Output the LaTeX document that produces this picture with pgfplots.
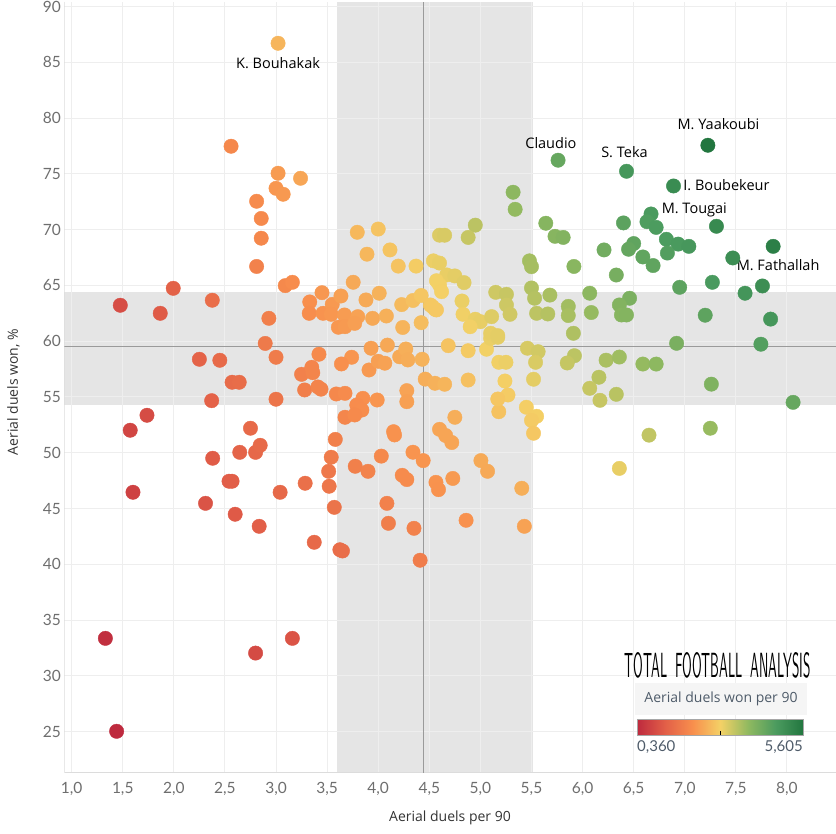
\documentclass[border=0pt]{standalone}
\usepackage{pgfplots}
\pgfplotsset{compat=1.18}
\usepackage{pgfplotstable}
\usepackage{fontspec}
\setmainfont{Open Sans}
\newfontfamily\tickfont{Lato}
\definecolor{bandc}{HTML}{E5E5E5}
\definecolor{gridc}{HTML}{EEEEEE}
\definecolor{medc}{HTML}{9A9A9A}
\definecolor{axisc}{HTML}{DCDCDC}
\definecolor{tickc}{HTML}{6E6E6E}
\definecolor{titlec}{HTML}{333333}
\definecolor{legc}{HTML}{4E5B69}
\definecolor{legbg}{HTML}{F5F5F5}
\definecolor{ra}{HTML}{BE2A3E}
\definecolor{rb}{HTML}{E25F48}
\definecolor{rc}{HTML}{F88F4D}
\definecolor{rd}{HTML}{F4D166}
\definecolor{re}{HTML}{90B960}
\definecolor{rf}{HTML}{4B9B5F}
\definecolor{rg}{HTML}{22763F}
\pgfdeclarehorizontalshading{rgg}{100bp}{color(0bp)=(ra); color(25bp)=(ra); color(33.333bp)=(rb); color(41.667bp)=(rc); color(50bp)=(rd); color(58.333bp)=(re); color(66.667bp)=(rf); color(75bp)=(rg); color(100bp)=(rg)}

\pgfplotstableread{
x y
3.02 86.7
2.56 77.47
3.02 75.05
3.24 74.6
3.00 73.7
3.07 73.17
2.81 72.54
2.855 71.0
2.855 69.23
2.81 66.7
3.09 64.98
3.16 65.28
1.476 63.22
1.994 64.74
1.867 62.5
2.376 63.67
2.93 62.05
2.894 59.8
3.0 58.56
3.42 58.83
2.25 58.38
2.45 58.29
2.57 56.32
2.64 56.32
2.37 54.67
3.0 54.8
3.25 57.03
3.35 57.66
3.36 57.18
3.28 55.63
3.41 55.9
3.44 55.7
3.33 63.52
3.325 62.5
3.45 64.35
3.46 62.5
3.55 63.3
3.54 62.41
3.635 64.05
3.67 62.35
3.80 62.2
3.61 61.25
3.675 61.3
3.77 61.6
3.755 65.28
3.88 63.7
4.01 64.3
3.945 62.05
4.08 62.26
4.23 63.28
4.24 61.23
3.795 69.76
4.0 70.05
3.89 67.8
4.115 68.18
4.196 66.73
4.37 66.73
4.34 63.65
4.42 64.1
4.42 61.66
4.51 63.25
4.555 62.86
3.74 58.56
3.64 57.96
3.93 59.37
4.09 59.65
3.91 57.42
4.0 58.2
4.065 58.03
4.21 58.6
4.27 59.3
4.29 58.32
4.43 58.38
4.46 56.6
4.555 56.23
4.65 56.14
4.28 55.57
4.28 54.58
3.59 55.27
3.675 55.33
3.85 54.88
3.79 54.28
3.84 53.83
3.675 53.18
3.77 53.39
3.99 54.73
4.15 51.89
4.16 51.6
3.58 51.2
3.54 49.6
4.03 49.7
4.34 50.05
4.44 49.3
1.737 53.36
1.573 52.02
1.60 46.46
1.33 33.37
1.44 25.04
2.80 32.05
3.16 33.37
2.31 45.47
2.60 44.49
2.835 43.41
2.38 49.51
2.645 50.04
2.75 52.2
2.80 50.04
2.845 50.67
2.54 47.45
2.57 47.45
3.04 46.46
3.285 47.27
3.374 41.98
3.625 41.31
3.65 41.2
3.57 45.11
3.52 47.0
3.515 48.34
3.775 48.79
3.90 48.34
4.085 45.47
4.10 43.68
4.235 47.98
4.28 47.6
4.35 43.23
4.41 40.37
4.565 47.35
4.59 46.7
4.73 47.7
4.75 53.18
4.60 52.1
4.66 51.55
4.72 50.92
5.005 49.3
5.07 48.34
5.405 46.82
4.86 43.95
5.43 43.41
5.18 53.68
5.45 54.08
5.55 53.27
5.50 52.9
5.52 51.75
6.36 48.6
6.65 51.58
7.25 52.2
8.06 54.52
6.17 54.7
6.33 55.24
5.24 56.43
5.27 55.18
5.17 54.82
5.52 56.59
4.88 56.52
4.685 59.6
4.88 59.15
5.06 59.28
5.10 60.26
5.17 60.35
5.18 58.11
5.25 58.11
5.46 59.37
5.565 59.06
5.54 58.11
5.92 58.7
5.85 58.05
5.91 60.71
6.16 56.77
6.07 55.78
6.23 58.3
6.36 58.58
6.59 57.95
6.72 57.95
6.92 59.81
7.745 59.73
7.26 56.15
5.32 73.35
5.34 71.82
5.64 70.57
5.73 69.4
5.81 69.3
5.915 66.7
4.95 70.4
4.88 69.3
4.60 69.5
4.65 69.5
5.48 67.2
5.50 66.68
4.54 67.2
4.60 67.0
4.67 65.94
4.75 65.85
4.84 65.25
4.57 65.42
4.60 65.04
4.62 64.44
4.53 63.1
4.57 62.8
5.15 64.38
5.255 64.2
5.255 63.25
5.29 62.41
5.50 64.77
5.53 63.85
5.68 64.13
5.55 62.5
5.66 62.44
5.86 63.12
5.86 62.3
4.82 63.6
4.83 62.41
4.95 61.97
5.0 61.75
5.11 62.2
4.90 61.3
5.10 60.71
5.17 60.5
5.76 76.22
6.43 75.23
7.226 77.56
6.89 73.91
7.31 70.3
7.865 68.5
7.47 67.46
6.67 71.4
6.63 70.71
6.72 70.2
6.40 70.6
6.82 69.13
6.935 68.7
7.04 68.5
6.50 68.75
6.45 68.24
6.83 67.9
6.59 67.55
6.69 66.78
6.21 68.18
6.33 65.93
6.95 64.83
7.27 65.28
7.76 64.95
7.59 64.3
6.07 64.3
6.46 63.85
6.36 63.25
6.38 62.35
6.43 62.35
6.085 62.57
7.20 62.33
7.84 61.98
}\scatterdata

\begin{document}
\begin{tikzpicture}
\begin{axis}[
  set layers,
  at={(0pt,0pt)}, anchor=south west,
  scale only axis, width=771.7pt, height=770.7pt,
  xmin=0.928, xmax=8.48, ymin=21.33, ymax=90.4,
  xtick={1,1.5,2,2.5,3,3.5,4,4.5,5,5.5,6,6.5,7,7.5,8},
  ytick={25,30,35,40,45,50,55,60,65,70,75,80,85,90},
  grid=major, major grid style={draw=gridc, line width=1pt},
  axis line style={draw=none},
  major tick length=0pt, tick style={draw=none},
  /pgf/number format/assume math mode=true,
  ticklabel style={font=\tickfont\fontsize{15.5}{18}\selectfont, text=tickc},
  xticklabel style={/pgf/number format/fixed, /pgf/number format/fixed zerofill, /pgf/number format/precision=1, /pgf/number format/use comma, yshift=-6pt},
  colormap={rgg}{rgb255=(190,42,62) rgb255=(226,95,72) rgb255=(248,143,77) rgb255=(244,209,102) rgb255=(144,185,96) rgb255=(75,155,95) rgb255=(34,118,63)},
  point meta min=0.36, point meta max=5.605,
]
\begin{pgfonlayer}{axis background}
\fill[bandc] (axis cs:3.593,21.33) rectangle (axis cs:5.517,90.4);
\fill[bandc] (axis cs:0.928,54.31) rectangle (axis cs:8.48,64.41);
\end{pgfonlayer}
\draw[axisc, line width=1pt] (axis cs:0.928,90.4) -- (axis cs:0.928,21.33) -- (axis cs:8.48,21.33);
\draw[medc, line width=0.9pt] (axis cs:4.447,21.33) -- (axis cs:4.447,90.4);
\draw[medc, line width=0.9pt] (axis cs:0.928,59.54) -- (axis cs:8.48,59.54);
\addplot[scatter, only marks, mark=*, mark size=7.2pt,
  scatter/use mapped color={draw=mapped color, fill=mapped color},
  point meta={\thisrow{x}*\thisrow{y}/100}] table[x=x, y=y] {\scatterdata};
\begin{scope}[every node/.style={font=\fontsize{14.5}{17}\selectfont, text=black, inner sep=0pt}]
\node at (axis cs:3.02,84.91) {K. Bouhakak};
\node at (axis cs:5.69,77.79) {Claudio};
\node at (axis cs:6.41,76.99) {S. Teka};
\node at (axis cs:7.33,79.5) {M. Yaakoubi};
\node[anchor=west] at (axis cs:6.985,74.0) {I. Boubekeur};
\node[anchor=west] at (axis cs:6.773,71.76) {M. Tougai};
\node[anchor=west] at (axis cs:7.507,66.83) {M. Fathallah};
\end{scope}
\end{axis}
% axis titles
\node[font=\fontsize{14}{16}\selectfont, text=titlec] at (385.7pt,-45.3pt) {Aerial duels per 90};
\node[font=\fontsize{14}{16}\selectfont, text=titlec, rotate=90] at (-50.8pt,380.7pt) {Aerial duels won, \%};
% logo
\node[inner sep=0pt] at (653.6pt,106.9pt) {\resizebox{186pt}{25pt}{\sffamily TOTAL\hspace{0.6em}FOOTBALL\hspace{0.6em}ANALYSIS}};
% legend
\fill[legbg] (570.7pt,57.7pt) rectangle (742.7pt,89.7pt);
\node[font=\fontsize{14}{16}\selectfont, text=legc] at (656.7pt,73.7pt) {Aerial duels won per 90};
\shade[shading=rgg] (573pt,37.7pt) rectangle (739pt,53.4pt);
\draw[gray!70, line width=0.8pt] (573pt,37.7pt) rectangle (739pt,53.4pt);
\draw[black, line width=0.8pt] (655.7pt,37.7pt) -- (655.7pt,41.2pt);
\node[anchor=west, inner sep=0pt, font=\tickfont\fontsize{15}{17}\selectfont, text=legc] at (572.7pt,26pt) {0,360};
\node[anchor=east, inner sep=0pt, font=\tickfont\fontsize{15}{17}\selectfont, text=legc] at (738.7pt,26pt) {5,605};
\pgfresetboundingbox
\useasboundingbox (-64.3pt,-61.3pt) rectangle (771.7pt,772.7pt);
\end{tikzpicture}
\end{document}
